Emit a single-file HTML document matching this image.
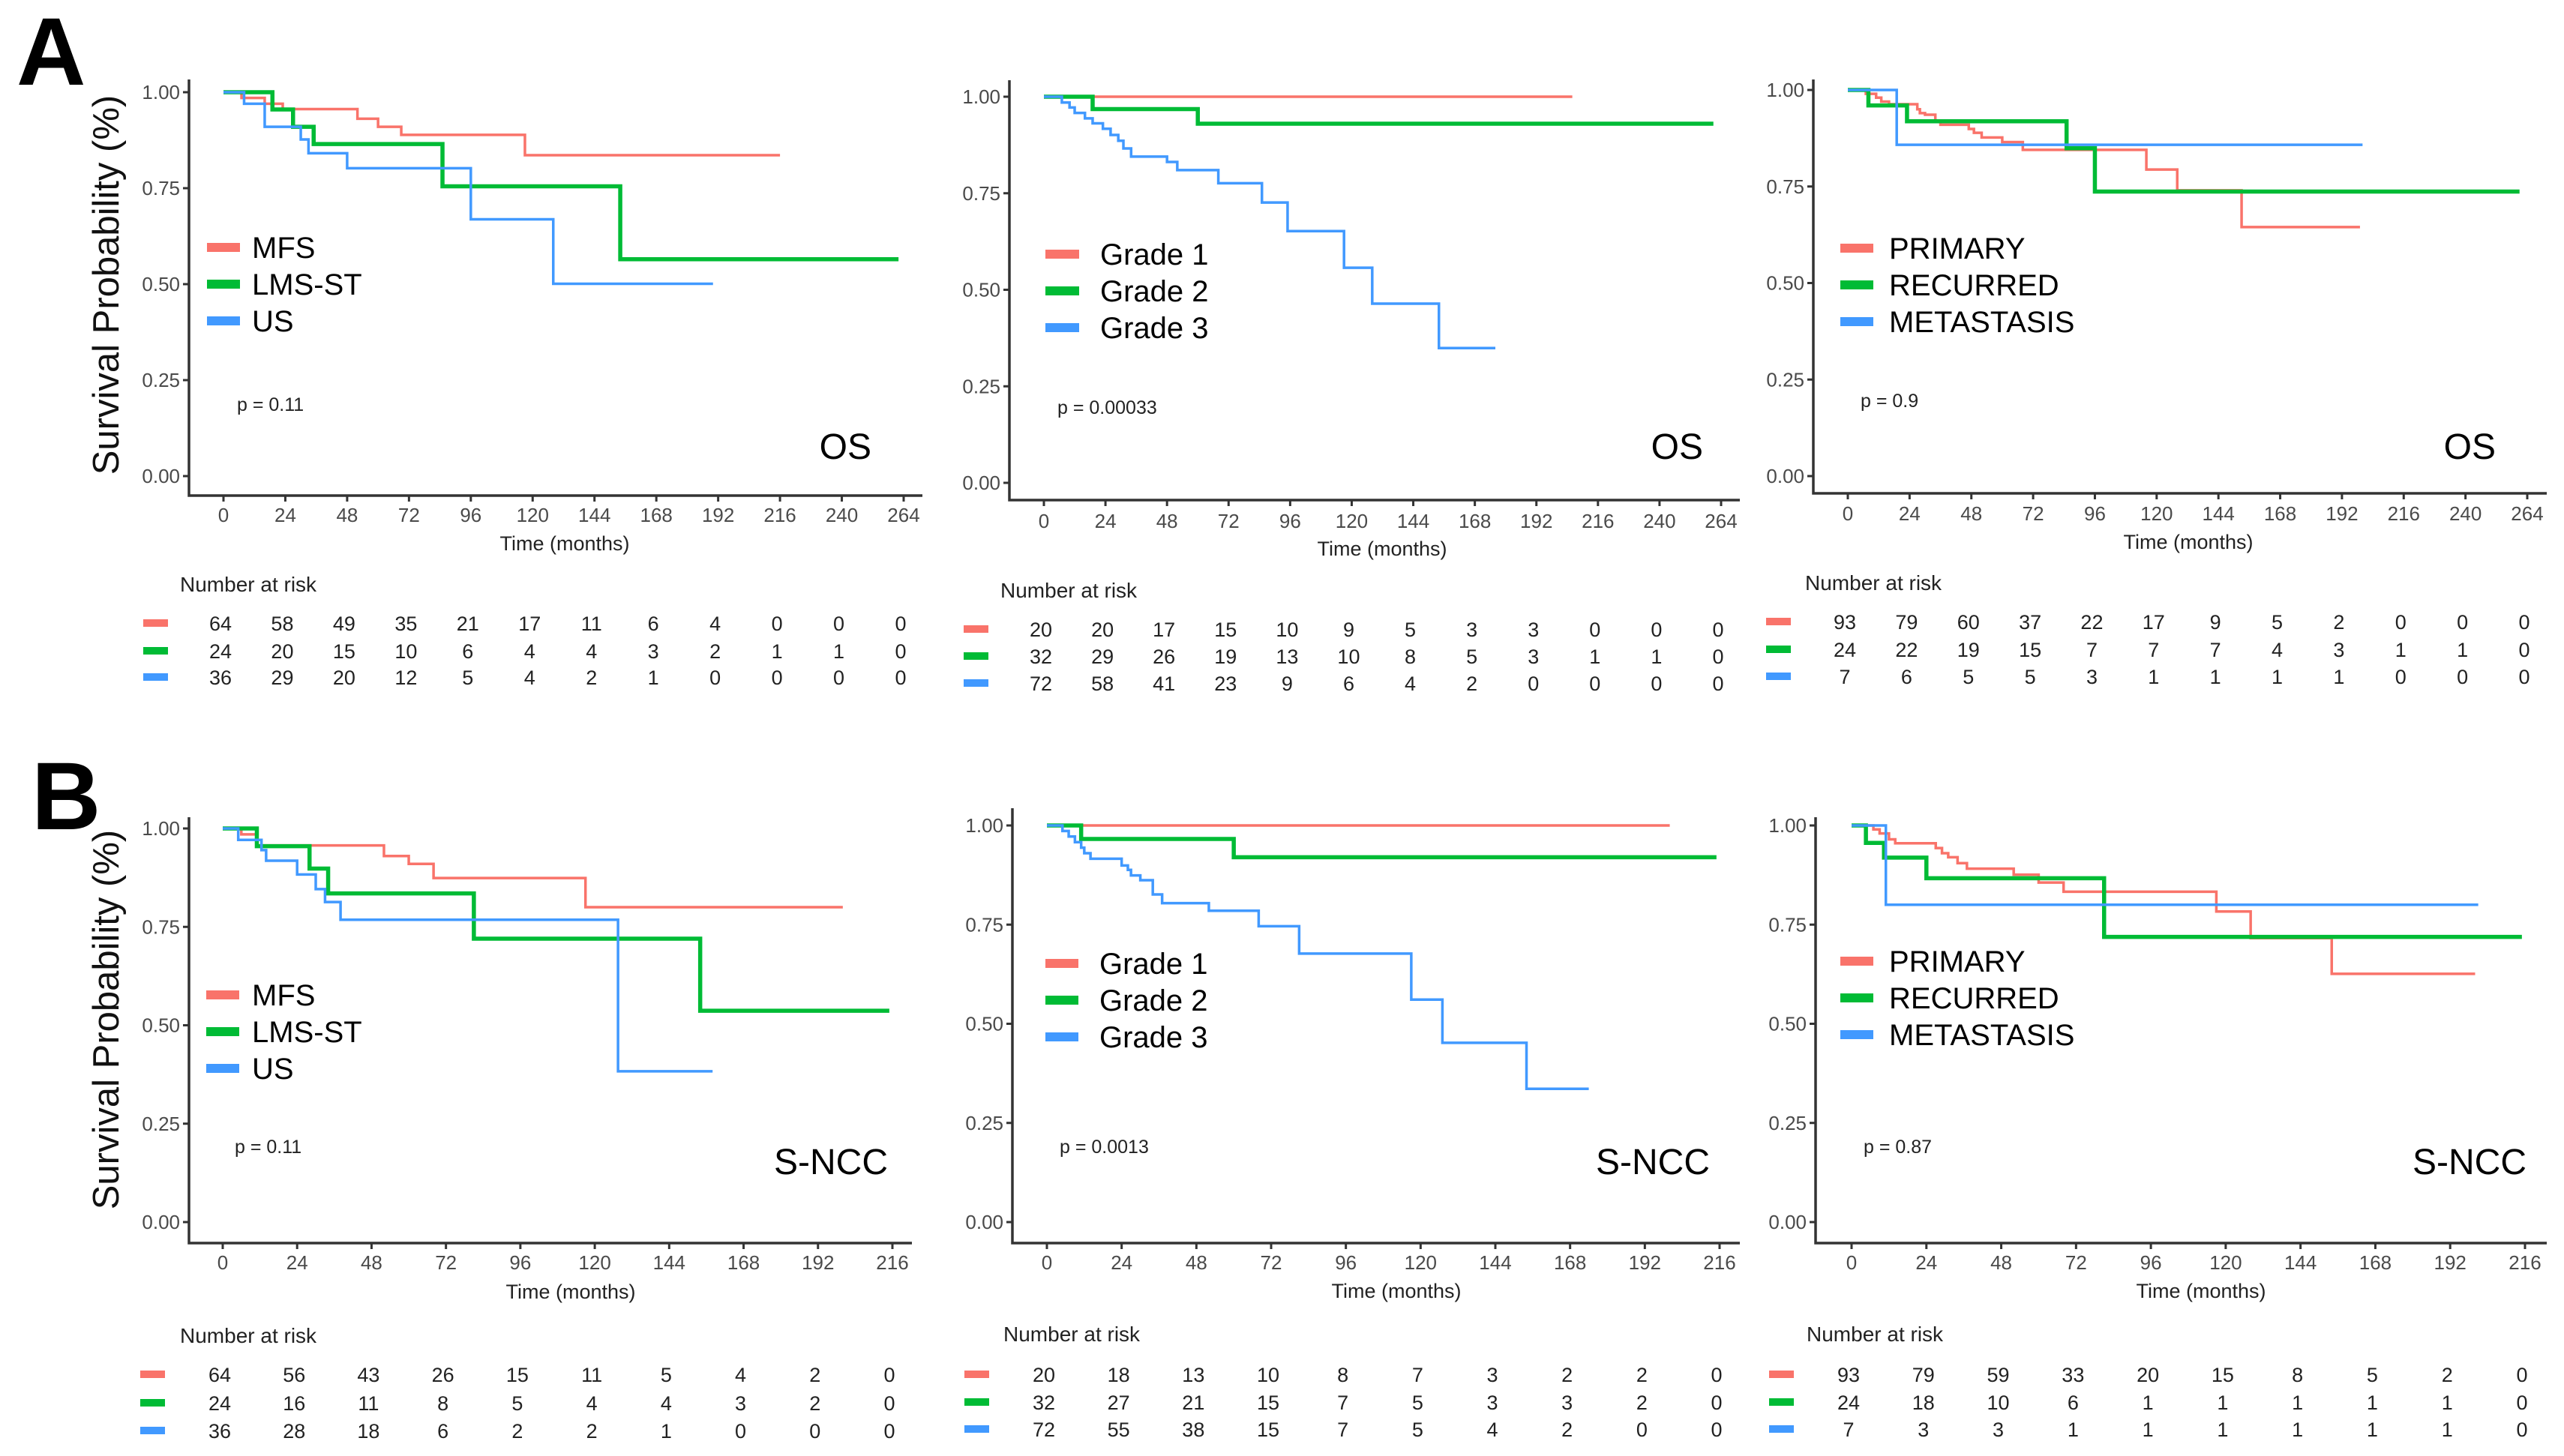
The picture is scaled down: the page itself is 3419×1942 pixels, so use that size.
<!DOCTYPE html>
<html><head><meta charset="utf-8">
<style>
html,body{margin:0;padding:0;background:#fff;}
svg{display:block;font-family:"Liberation Sans",Arial,sans-serif;}
</style></head>
<body>
<svg id="fig" width="3419" height="1942" viewBox="0 0 3419 1942" xmlns="http://www.w3.org/2000/svg">
<rect x="0" y="0" width="3419" height="1942" fill="#fff"/>
<text x="22" y="113" font-size="128" font-weight="bold" fill="#000">A</text>
<text x="42" y="1106" font-size="128" font-weight="bold" fill="#000">B</text>
<text transform="translate(158,380) rotate(-90)" text-anchor="middle" font-size="49" fill="#111">Survival Probability (%)</text>
<text transform="translate(158,1360) rotate(-90)" text-anchor="middle" font-size="49" fill="#111">Survival Probability (%)</text>
</svg>
<script>
// ---- data: A1 (OS by histology) ----
const a1MfsT=[0,7,16,23,52,60,69,117,216];
const a1MfsS=[1,.985,.97,.956,.931,.91,.889,.836,.836];
const a1LmsT=[0,19,27,35,85,154,262];
const a1LmsS=[1,.955,.91,.865,.755,.565,.565];
const a1UsT=[0,8,16,30,33,48,96,128,190];
const a1UsS=[1,.97,.91,.877,.841,.802,.669,.501,.501];
const a1Risk=[[64,58,49,35,21,17,11,6,4,0,0,0],[24,20,15,10,6,4,4,3,2,1,1,0],[36,29,20,12,5,4,2,1,0,0,0,0]];
// ---- data: A2 (OS by grade) ----
const a2G1T=[0,206];
const a2G1S=[1,1];
const a2G2T=[0,19,60,261];
const a2G2S=[1,.968,.93,.93];
const a2G3T=[0,7,10,12,16,19,23,26,29,31,34,48,52,68,85,95,117,128,154,176];
const a2G3S=[1,.985,.972,.958,.944,.931,.917,.901,.886,.866,.845,.831,.81,.776,.726,.652,.557,.464,.349,.349];
const a2Risk=[[20,20,17,15,10,9,5,3,3,0,0,0],[32,29,26,19,13,10,8,5,3,1,1,0],[72,58,41,23,9,6,4,2,0,0,0,0]];
// ---- data: A3 (OS by status) ----
const a3PrT=[0,7,11,13,16,27,28,30,34,36,47,49,52,60,68,116,128,153,199];
const a3PrS=[1,.99,.98,.97,.963,.95,.94,.936,.92,.91,.899,.889,.877,.865,.845,.794,.74,.645,.645];
const a3ReT=[0,8,23,85,96,261];
const a3ReS=[1,.96,.919,.849,.737,.737];
const a3MeT=[0,19,200];
const a3MeS=[1,.858,.858];
const a3Risk=[[93,79,60,37,22,17,9,5,2,0,0,0],[24,22,19,15,7,7,7,4,3,1,1,0],[7,6,5,5,3,1,1,1,1,0,0,0]];
// ---- data: B1 (S-NCC by histology) ----
const b1MfsT=[0,6,11,52,60,68,117,200];
const b1MfsS=[1,.985,.957,.93,.91,.874,.80,.80];
const b1LmsT=[0,11,28,34,81,154,215];
const b1LmsS=[1,.955,.898,.835,.72,.537,.537];
const b1UsT=[0,5,12.5,14,24,30,33,38,127.5,158];
const b1UsS=[1,.971,.945,.918,.883,.846,.813,.768,.383,.383];
const b1Risk=[[64,56,43,26,15,11,5,4,2,0],[24,16,11,8,5,4,4,3,2,0],[36,28,18,6,2,2,1,0,0,0]];
// ---- data: B2 (S-NCC by grade) ----
const b2G1T=[0,200];
const b2G1S=[1,1];
const b2G2T=[0,11,60,215];
const b2G2S=[1,.966,.92,.92];
const b2G3T=[0,5,7,9,11,12,14,24,26,27,30,34,37,52,68,81,117,127,154,174];
const b2G3S=[1,.986,.972,.958,.944,.93,.916,.899,.888,.874,.862,.826,.804,.785,.746,.677,.561,.452,.336,.336];
const b2Risk=[[20,18,13,10,8,7,3,2,2,0],[32,27,21,15,7,5,3,3,2,0],[72,55,38,15,7,5,4,2,0,0]];
// ---- data: B3 (S-NCC by status) ----
const b3PrT=[0,7,9,12,14,27,29,31,34,37,52,60,68,117,128,154,200];
const b3PrS=[1,.99,.98,.965,.955,.943,.93,.92,.905,.891,.876,.856,.833,.783,.716,.626,.626];
const b3ReT=[0,4.6,10.4,24,81,215];
const b3ReS=[1,.956,.919,.867,.719,.719];
const b3MeT=[0,11,201];
const b3MeS=[1,.80,.80];
const b3Risk=[[93,79,59,33,20,15,8,5,2,0],[24,18,10,6,1,1,1,1,1,0],[7,3,3,1,1,1,1,1,1,0]];
const yTicks=[0,0.25,0.5,0.75,1];
const yTickLabels=["0.00","0.25","0.50","0.75","1.00"];

const RED="#F9736A",GREEN="#00BB35",BLUE="#4199FF";
const NS="http://www.w3.org/2000/svg";
const svg=document.getElementById('fig');
function mk(tag,attrs,parent){const e=document.createElementNS(NS,tag);for(const k in attrs)e.setAttribute(k,attrs[k]);(parent||svg).appendChild(e);return e;}

const panels=[
 {id:'a1',axL:252,axT:106,axR:1230,axY:661,x0:298,xM:1205,tMax:264,y1:123,y0:635,tickY:687,
  leg:{sx:276,sw:44,tx:336,ys:[330,379,428]},names:['MFS','LMS-ST','US'],
  series:[[a1MfsT,a1MfsS],[a1LmsT,a1LmsS],[a1UsT,a1UsS]],risk:a1Risk,
  p:'p = 0.11',px:316,py:539,corner:'OS',cx:1162,cy:595,time:[753,724],nar:[240,779],rows:[831,868,903],rsx:191},
 {id:'a2',axL:1346,axT:107,axR:2320,axY:667,x0:1392,xM:2295,tMax:264,y1:129,y0:644,tickY:695,
  leg:{sx:1394,sw:45,tx:1467,ys:[339,388,437]},names:['Grade 1','Grade 2','Grade 3'],
  series:[[a2G1T,a2G1S],[a2G2T,a2G2S],[a2G3T,a2G3S]],risk:a2Risk,
  p:'p = 0.00033',px:1410,py:543,corner:'OS',cx:2271,cy:595,time:[1843,731],nar:[1334,787],rows:[839,875,911],rsx:1285},
 {id:'a3',axL:2418,axT:106,axR:3396,axY:658,x0:2464,xM:3370,tMax:264,y1:120,y0:635,tickY:685,
  leg:{sx:2454,sw:44,tx:2519,ys:[331,380,429]},names:['PRIMARY','RECURRED','METASTASIS'],
  series:[[a3PrT,a3PrS],[a3ReT,a3ReS],[a3MeT,a3MeS]],risk:a3Risk,
  p:'p = 0.9',px:2481,py:534,corner:'OS',cx:3328,cy:595,time:[2918,722],nar:[2407,777],rows:[829,866,902],rsx:2355},
 {id:'b1',axL:252,axT:1090,axR:1216,axY:1658,x0:297,xM:1190,tMax:216,y1:1105,y0:1630,tickY:1684,
  leg:{sx:275,sw:44,tx:336,ys:[1327,1376,1425]},names:['MFS','LMS-ST','US'],
  series:[[b1MfsT,b1MfsS],[b1LmsT,b1LmsS],[b1UsT,b1UsS]],risk:b1Risk,
  p:'p = 0.11',px:313,py:1529,corner:'S-NCC',cx:1184,cy:1549,time:[761,1722],nar:[240,1781],rows:[1833,1871,1908],rsx:187},
 {id:'b2',axL:1350,axT:1078,axR:2320,axY:1658,x0:1396,xM:2293,tMax:216,y1:1101,y0:1630,tickY:1684,
  leg:{sx:1394,sw:44,tx:1466,ys:[1285,1334,1383]},names:['Grade 1','Grade 2','Grade 3'],
  series:[[b2G1T,b2G1S],[b2G2T,b2G2S],[b2G3T,b2G3S]],risk:b2Risk,
  p:'p = 0.0013',px:1413,py:1529,corner:'S-NCC',cx:2280,cy:1549,time:[1862,1721],nar:[1338,1779],rows:[1833,1870,1906],rsx:1286},
 {id:'b3',axL:2421,axT:1090,axR:3396,axY:1658,x0:2469,xM:3367,tMax:216,y1:1101,y0:1630,tickY:1684,
  leg:{sx:2454,sw:44,tx:2519,ys:[1282,1331,1380]},names:['PRIMARY','RECURRED','METASTASIS'],
  series:[[b3PrT,b3PrS],[b3ReT,b3ReS],[b3MeT,b3MeS]],risk:b3Risk,
  p:'p = 0.87',px:2485,py:1529,corner:'S-NCC',cx:3369,cy:1549,time:[2935,1721],nar:[2409,1779],rows:[1833,1870,1906],rsx:2359}
];
const colors=[RED,GREEN,BLUE];
const widths=[3.5,5.5,3.5];

panels.forEach(P=>{
  const g=mk('g',{});
  
  
  const xs=t=>P.x0+(P.xM-P.x0)*t/P.tMax;
  const ys=s=>P.y0-(P.y0-P.y1)*s;
  const ax=mk('path',{d:`M${P.axL},${P.axT}V${P.axY}H${P.axR}`,fill:'none',stroke:'#333','stroke-width':3.5},g);
  
  
  yTicks.forEach((v,i)=>{
    mk('line',{x1:P.axL-8,x2:P.axL,y1:ys(v),y2:ys(v),stroke:'#333','stroke-width':3},g);
    const t=mk('text',{x:P.axL-12,y:ys(v)+9,'text-anchor':'end','font-size':26,fill:'#4a4a4a'},g);
    t.textContent=yTickLabels[i];
    
    
  });
  const xTickLabels=[];for(let v=0;v<=P.tMax;v+=24)xTickLabels.push(v);
  xTickLabels.forEach(v=>{
    mk('line',{x1:xs(v),x2:xs(v),y1:P.axY,y2:P.axY+8,stroke:'#333','stroke-width':3},g);
    const t=mk('text',{x:xs(v),y:P.tickY+9,'text-anchor':'middle','font-size':26,fill:'#4a4a4a'},g);
    t.textContent=v;
    
    
  });
  const tl=mk('text',{x:P.time[0],y:P.time[1]+10,'text-anchor':'middle','font-size':27,fill:'#222'},g);
  tl.textContent='Time (months)';
  
  
  P.series.forEach((sr,k)=>{
    const T=sr[0],S=sr[1];
    let d=`M${xs(T[0])},${ys(S[0])}`;
    for(let i=1;i<T.length;i++){d+=`H${xs(T[i])}V${ys(S[i])}`;}
    const pth=mk('path',{d:d,fill:'none',stroke:colors[k],'stroke-width':widths[k]},g);
    
    
  });
  P.names.forEach((n,k)=>{
    const r=mk('rect',{x:P.leg.sx,y:P.leg.ys[k]-6,width:P.leg.sw,height:12,fill:colors[k]},g);
    
    
    const t=mk('text',{x:P.leg.tx,y:P.leg.ys[k]+14,'font-size':40,fill:'#000'},g);
    t.textContent=n;
    
    
  });
  const pt=mk('text',{x:P.px,y:P.py+9,'font-size':25,fill:'#222'},g);
  pt.textContent=P.p;
  
  
  const ct=mk('text',{x:P.cx,y:P.cy+17,'text-anchor':'end','font-size':48,fill:'#000'},g);
  ct.textContent=P.corner;
  
  
  const nr=mk('text',{x:P.nar[0],y:P.nar[1]+10,'font-size':28,fill:'#222'},g);
  nr.textContent='Number at risk';
  
  
  P.risk.forEach((row,k)=>{
    const sw=mk('rect',{x:P.rsx,y:P.rows[k]-5,width:33,height:10,fill:colors[k]},g);
    
    
    row.forEach((v,i)=>{
      const t=mk('text',{x:xs(i*24)-4,y:P.rows[k]+10,'text-anchor':'middle','font-size':27,fill:'#222'},g);
      t.textContent=v;
      
      
    });
  });
});
</script>
</body></html>
